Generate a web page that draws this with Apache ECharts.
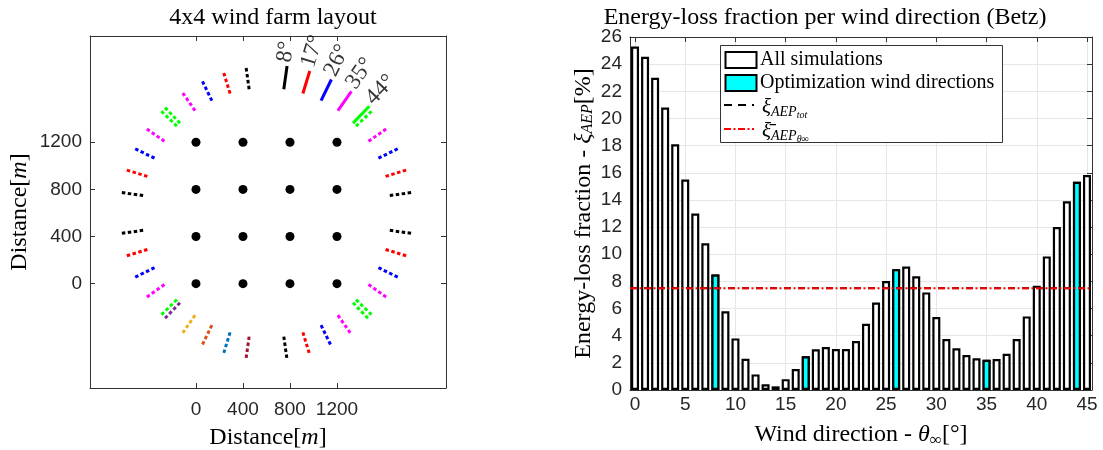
<!DOCTYPE html>
<html><head><meta charset="utf-8">
<script src="https://cdn.jsdelivr.net/npm/echarts@6/dist/echarts.min.js"></script>
<style>html,body{margin:0;padding:0;background:#fff}#c{width:1103px;height:450px}</style>
</head><body><div id="c"></div>
<script>
// ---------- data: left panel (layout) ----------
const turbineX = [0, 400, 800, 1200];
const turbineY = [0, 400, 800, 1200];
const farmCenter = [600, 600];
const optDirections = [8, 17, 26, 35, 44];
const dirColors = ['#000000', '#ff0000', '#0000ff', '#ff00ff', '#00ff00'];
const oppositeColors = ['#A2142F', '#0072BD', '#D95319', '#EDB120', '#7E2F8E'];
const segInner = 1060, segOuter = 1260, labelRadius = 1290;
const layoutTicks = [0, 400, 800, 1200];

// ---------- data: right panel (energy loss) ----------
const windDirections = [0,1,2,3,4,5,6,7,8,9,10,11,12,13,14,15,16,17,18,19,20,21,22,23,24,25,26,27,28,29,30,31,32,33,34,35,36,37,38,39,40,41,42,43,44,45];
const energyLoss = [25.3,24.55,23.0,20.8,18.1,15.5,13.0,10.8,8.5,5.8,3.8,2.3,1.15,0.42,0.27,0.8,1.55,2.48,3.0,3.17,3.02,3.02,3.6,4.88,6.45,8.03,8.9,9.1,8.37,7.19,5.38,3.75,3.07,2.58,2.33,2.23,2.28,2.67,3.75,5.42,7.68,9.84,12.0,13.9,15.34,15.83];
const xiAEPtot = 7.5;
const xiAEPmean = 7.5;
const windTicks = [0, 5, 10, 15, 20, 25, 30, 35, 40, 45];

// ---------- build ----------
const SERIF = "'Liberation Serif', serif";
const SANS = "'Liberation Sans', Arial, sans-serif";
const AX = '#333333';
const TICKC = '#262626';
const toRad = d => d * Math.PI / 180;
function polar(r, deg) {
  return [farmCenter[0] + r * Math.sin(toRad(deg)), farmCenter[1] + r * Math.cos(toRad(deg))];
}
const plain = v => String(v);

const series = [];
const turbines = [];
turbineY.forEach(y => turbineX.forEach(x => turbines.push([x, y])));
series.push({type: 'scatter', xAxisIndex: 0, yAxisIndex: 0, data: turbines, symbolSize: 9,
  itemStyle: {color: '#000', opacity: 1}, silent: true, z: 3});

optDirections.forEach((t, i) => {
  const set = [
    {a: t, c: dirColors[i], solid: true},
    {a: 90 - t, c: dirColors[i]}, {a: 90 + t, c: dirColors[i]}, {a: 180 - t, c: dirColors[i]},
    {a: 180 + t, c: oppositeColors[i]}, {a: 270 - t, c: dirColors[i]}, {a: 270 + t, c: dirColors[i]},
    {a: 360 - t, c: dirColors[i]}
  ];
  set.forEach(s => series.push({
    type: 'line', xAxisIndex: 0, yAxisIndex: 0, silent: true, symbol: 'none', animation: false,
    data: [polar(segInner, s.a), polar(segOuter, s.a)],
    lineStyle: {color: s.c, width: 3, type: s.solid ? 'solid' : [3.5, 2.5]},
    z: s.solid ? 4 : 3
  }));
});

series.push({
  type: 'scatter', xAxisIndex: 0, yAxisIndex: 0, symbolSize: 1, silent: true,
  itemStyle: {color: 'rgba(0,0,0,0)'},
  data: optDirections.map(t => ({name: t + '°', value: polar(labelRadius, t - 1.2), label: {rotate: 90 - t}})),
  label: {show: true, position: 'inside', formatter: p => p.name, align: 'left', verticalAlign: 'middle',
    fontFamily: SERIF, fontSize: 23, color: '#000'},
  z: 5
});

series.push({
  name: 'All simulations', type: 'bar', xAxisIndex: 2, yAxisIndex: 2, barWidth: 8, barGap: '-100%',
  data: windDirections.map((d, i) => [d, energyLoss[i]]),
  itemStyle: {color: '#ffffff', borderColor: '#000', borderWidth: 2.2}, z: 2
});
series.push({
  name: 'Optimization wind directions', type: 'bar', xAxisIndex: 2, yAxisIndex: 2, barWidth: 8, barGap: '-100%',
  data: optDirections.map(d => [d, energyLoss[windDirections.indexOf(d)]]),
  itemStyle: {color: '#00ffff', borderColor: '#000', borderWidth: 2.2}, z: 3
});
series.push({
  name: 'xi_tot', type: 'line', xAxisIndex: 2, yAxisIndex: 2, symbol: 'none', silent: true,
  data: [[-0.5, xiAEPtot], [45.5, xiAEPtot]],
  lineStyle: {color: '#000', width: 2, type: [7, 7]}, z: 5
});
series.push({
  name: 'xi_mean', type: 'line', xAxisIndex: 2, yAxisIndex: 2, symbol: 'none', silent: true,
  data: [[-0.5, xiAEPmean], [45.5, xiAEPmean]],
  lineStyle: {color: '#ff0000', width: 2, type: [7, 2.5, 2, 2.5]}, z: 6
});

const lineSt = {color: AX, width: 1};
// rich token helpers: 'height' sets the token box, verticalAlign top -> glyph centre at height/2
const tok = (size, h, italic) => ({fontFamily: SERIF, fontSize: size, fontStyle: italic ? 'italic' : 'normal',
  color: '#000', fill: '#000', height: h, lineHeight: h, verticalAlign: 'top'});
const richM = {n: tok(24, 27, false), i: tok(24, 27, true)};
const richXi = {n: tok(24, 27, false), x: tok(24, 27, true), s: tok(16, 35, true)};
const richTheta = {n: tok(24, 27, false), i: tok(24, 27, true), s: tok(17, 39, false)};
const richLeg = {x: tok(21, 24, true), s: tok(14, 35, true), ss: tok(10, 41, true)};

function xAxisDef(grid, pos, min, max, ticks, withLabels, extra) {
  return Object.assign({
    gridIndex: grid, type: 'value', position: pos, min: min, max: max,
    axisLine: {show: true, onZero: false, lineStyle: lineSt},
    axisTick: {show: true, inside: true, length: 5, customValues: ticks, lineStyle: lineSt},
    axisLabel: withLabels ? {customValues: ticks, formatter: plain, fontFamily: SANS, fontSize: 19, color: TICKC} : {show: false},
    splitLine: {show: false}
  }, extra || {});
}
function yAxisDef(grid, pos, min, max, extra) {
  return Object.assign({
    gridIndex: grid, type: 'value', position: pos, min: min, max: max,
    axisLine: {show: true, onZero: false, lineStyle: lineSt},
    axisTick: {show: true, inside: true, length: 5, lineStyle: lineSt},
    splitLine: {show: false}
  }, extra || {});
}

const option = {
  animation: false,
  backgroundColor: '#ffffff',
  title: [
    {text: '4x4 wind farm layout', left: 268, top: 1, textAlign: 'center',
      textStyle: {fontFamily: SERIF, fontSize: 24, fontWeight: 'normal', color: '#000'}},
    {text: 'Energy-loss fraction per wind direction (Betz)', left: 820, top: 1, textAlign: 'center',
      textStyle: {fontFamily: SERIF, fontSize: 24, fontWeight: 'normal', color: '#000'}}
  ],
  grid: [
    {left: 90, top: 36, width: 356, height: 352, containLabel: false, outerBoundsMode: 'none'},
    {left: 630, top: 37, width: 462, height: 353, containLabel: false, outerBoundsMode: 'none'}
  ],
  xAxis: [
    xAxisDef(0, 'bottom', -902, 2128, layoutTicks, true, {
      axisLabel: {customValues: layoutTicks, formatter: plain, margin: 12, fontFamily: SANS, fontSize: 19, color: TICKC},
      name: '{n|Distance[}{i|m}{n|]}', nameLocation: 'middle', nameGap: 35,
      nameTextStyle: {fontFamily: SERIF, fontSize: 24, color: '#000', rich: richM}}),
    xAxisDef(0, 'top', -902, 2128, layoutTicks, false),
    xAxisDef(1, 'bottom', -0.5, 45.5, windTicks, true, {
      axisLabel: {customValues: windTicks, formatter: plain, margin: 5, fontFamily: SANS, fontSize: 19, color: TICKC},
      splitLine: {show: true, lineStyle: {color: '#e6e6e6', width: 1}},
      name: '{n|Wind direction - }{i|θ}{s|∞}{n|[°]}', nameLocation: 'middle', nameGap: 31,
      nameTextStyle: {fontFamily: SERIF, fontSize: 24, color: '#000', rich: richTheta}}),
    xAxisDef(1, 'top', -0.5, 45.5, windTicks, false)
  ],
  yAxis: [
    yAxisDef(0, 'left', -886, 2102, {
      axisTick: {show: true, inside: true, length: 5, customValues: layoutTicks, lineStyle: lineSt},
      axisLabel: {customValues: layoutTicks, formatter: plain, margin: 8, fontFamily: SANS, fontSize: 19, color: TICKC},
      name: '{n|Distance[}{i|m}{n|]}', nameLocation: 'middle', nameRotate: 90, nameGap: 57,
      nameTextStyle: {fontFamily: SERIF, fontSize: 24, color: '#000', rich: richM}}),
    yAxisDef(0, 'right', -886, 2102, {
      axisTick: {show: true, inside: true, length: 5, customValues: layoutTicks, lineStyle: lineSt},
      axisLabel: {show: false}}),
    yAxisDef(1, 'left', 0, 26, {
      interval: 2,
      axisLabel: {margin: 8, fontFamily: SANS, fontSize: 19, color: TICKC},
      splitLine: {show: true, lineStyle: {color: '#e6e6e6', width: 1}},
      name: '{n|Energy-loss fraction - }{x|ξ}{s|AEP}{n|[%]}', nameLocation: 'middle', nameRotate: 90, nameGap: 25,
      nameMoveOverlap: false,
      nameTextStyle: {fontFamily: SERIF, fontSize: 24, color: '#000', rich: richXi}}),
    yAxisDef(1, 'right', 0, 26, {interval: 2, axisLabel: {show: false}})
  ],
  graphic: [
    {type: 'rect', z: 100, shape: {x: 720.5, y: 45.5, width: 282, height: 97},
      style: {fill: '#fff', stroke: '#333', lineWidth: 1}},
    {type: 'rect', z: 101, shape: {x: 725.5, y: 52, width: 31, height: 16},
      style: {fill: '#fff', stroke: '#000', lineWidth: 2}},
    {type: 'text', z: 101, x: 760, y: 60,
      style: {text: 'All simulations', fontFamily: SERIF, fontSize: 20, fill: '#000', verticalAlign: 'middle'}},
    {type: 'rect', z: 101, shape: {x: 725.5, y: 75, width: 31, height: 16},
      style: {fill: '#00ffff', stroke: '#000', lineWidth: 2}},
    {type: 'text', z: 101, x: 760, y: 83,
      style: {text: 'Optimization wind directions', fontFamily: SERIF, fontSize: 20, fill: '#000', verticalAlign: 'middle'}},
    {type: 'line', z: 101, shape: {x1: 724, y1: 105, x2: 754, y2: 105},
      style: {stroke: '#000', lineWidth: 2, lineDash: [8, 6]}},
    {type: 'text', z: 101, x: 762, y: 95,
      style: {text: '{x|ξ}{s|AEP}{ss|tot}', verticalAlign: 'top', rich: richLeg}},
    {type: 'line', z: 101, shape: {x1: 724, y1: 129, x2: 754, y2: 129},
      style: {stroke: '#ff0000', lineWidth: 2, lineDash: [7, 2.5, 2, 2.5]}},
    {type: 'text', z: 101, x: 762, y: 119,
      style: {text: '{x|ξ\u0304}{s|AEP}{ss|θ∞}', verticalAlign: 'top', rich: richLeg}}
  ],
  series: series
};

const chart = echarts.init(document.getElementById('c'), null, {renderer: 'canvas'});
chart.setOption(option);
</script>
</body></html>
